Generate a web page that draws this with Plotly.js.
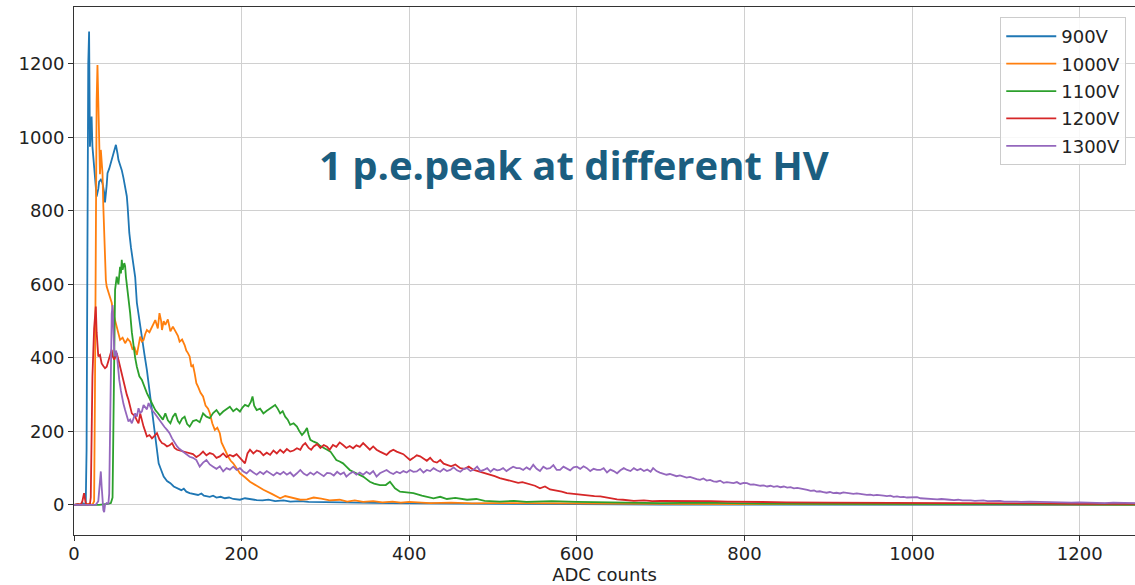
<!DOCTYPE html>
<html>
<head>
<meta charset="utf-8">
<script src="https://cdn.plot.ly/plotly-3.0.1.min.js"></script>
<style>
  html, body { margin: 0; padding: 0; background: #ffffff; }
  #chart { width: 1135px; height: 585px; }
</style>
</head>
<body>
<div id="chart"></div>
<script>
// Single photo-electron spectra, one histogram per high-voltage setting.
// Each list holds [ADC counts, entries] pairs.
const seriesNames = ["900V", "1000V", "1100V", "1200V", "1300V"];
const seriesColors = ["#1f77b4", "#ff7f0e", "#2ca02c", "#d62728", "#9467bd"];

const hv900 = [[0,0],[4,2],[8,0],[10,5],[12,3],[14,0],[15,150],[16,800],[17,1200],[18,1288],[19,975],[20,1010],[21,1057],[22,975],[24,911],[26,870],[27,839],[29,860],[30,880],[32,885],[34,876],[36,850],[37,823],[39,870],[40,903],[42,915],[45,939],[47,950],[50,980],[52,955],[53,939],[55,925],[57,911],[59,890],[61,866],[63,840],[64,812],[66,740],[68,700],[71,658],[73,620],[75,550],[78,500],[81,458],[84,410],[87,367],[90,310],[93,258],[96,200],[98,168],[101,113],[104,95],[107,77],[111,65],[115,59],[119,50],[123,46],[128,40],[131,44],[134,36],[138,32],[143,30],[148,27],[152,31],[155,25],[162,22],[166,25],[170,20],[175,22],[180,18],[185,20],[190,16],[198,14],[204,18],[210,15],[218,13],[225,12],[232,14],[240,10],[250,12],[258,9],[270,10],[280,8],[300,7],[330,6],[377,5],[420,4],[470,3],[520,2],[600,2],[700,1],[800,1],[900,1],[1000,0],[1100,0],[1266,0]];

const hv1000 = [[0,0],[6,2],[12,0],[18,3],[22,0],[24,10],[25,300],[26,800],[27,1100],[28,1197],[29,1100],[30,985],[31,900],[32,966],[33,930],[34,903],[35,812],[36,720],[38,612],[39,594],[42,570],[45,550],[47,520],[49,503],[52,470],[55,449],[58,455],[61,440],[64,452],[67,444],[70,422],[72,430],[75,408],[77,430],[79,458],[81,445],[83,449],[85,465],[87,476],[90,470],[93,485],[95,495],[97,503],[100,480],[102,522],[104,500],[105,476],[107,500],[109,490],[112,505],[115,472],[118,485],[121,472],[124,460],[126,444],[129,450],[132,435],[134,420],[136,413],[138,404],[140,376],[142,380],[144,358],[146,331],[148,322],[151,305],[154,295],[157,270],[160,262],[162,250],[165,222],[168,204],[171,210],[174,195],[176,170],[178,159],[181,145],[184,131],[187,120],[190,113],[194,100],[198,86],[204,75],[210,63],[218,52],[226,41],[236,30],[246,18],[252,24],[260,20],[270,14],[278,15],[286,20],[295,17],[305,12],[317,14],[326,9],[335,12],[345,8],[357,10],[368,7],[380,9],[390,6],[400,8],[425,5],[450,6],[475,4],[500,5],[550,4],[600,3],[650,4],[700,3],[800,2],[900,2],[1000,1],[1100,1],[1266,1]];

const hv1100 = [[0,0],[10,0],[20,2],[30,0],[40,3],[44,5],[46,20],[47,200],[48,450],[49,585],[51,621],[53,600],[55,648],[56,630],[57,667],[58,640],[60,658],[61,650],[62,620],[63,603],[65,560],[67,522],[69,470],[71,431],[73,400],[75,376],[78,350],[81,340],[84,320],[87,304],[89,295],[91,286],[94,270],[97,258],[100,250],[103,240],[106,232],[109,249],[112,230],[115,222],[118,240],[121,249],[124,228],[126,222],[129,235],[132,240],[135,220],[138,213],[142,228],[146,231],[150,225],[154,249],[158,240],[162,236],[166,250],[170,258],[174,245],[178,254],[182,260],[186,267],[190,255],[194,262],[198,254],[201,265],[204,272],[208,268],[211,280],[213,295],[215,270],[218,258],[222,262],[226,249],[230,256],[234,263],[237,268],[240,272],[243,262],[246,249],[249,255],[252,240],[255,232],[258,218],[262,222],[266,213],[269,200],[272,190],[275,198],[278,209],[280,190],[282,177],[286,172],[290,168],[294,160],[298,154],[302,150],[306,145],[310,132],[313,122],[317,118],[321,113],[325,104],[329,95],[333,90],[337,86],[341,80],[345,77],[349,70],[353,63],[358,58],[365,54],[372,54],[377,63],[383,45],[389,36],[397,34],[405,32],[415,25],[429,18],[437,22],[445,16],[455,19],[469,14],[480,16],[490,11],[508,9],[525,11],[540,8],[570,10],[600,8],[650,6],[700,5],[750,6],[800,4],[900,3],[1000,2],[1100,2],[1266,1]];

const hv1200 = [[0,0],[5,2],[8,0],[10,10],[12,32],[14,5],[16,0],[19,2],[20,20],[21,150],[22,350],[24,480],[26,540],[27,470],[29,404],[31,408],[33,385],[35,378],[37,372],[39,376],[41,390],[42,399],[44,410],[45,422],[46,405],[48,395],[50,405],[51,413],[53,395],[55,376],[57,349],[59,330],[61,313],[63,300],[65,286],[67,265],[69,249],[71,245],[73,240],[75,230],[77,222],[79,249],[81,228],[83,213],[85,200],[87,186],[90,190],[93,181],[96,188],[99,195],[102,178],[105,168],[108,165],[111,159],[114,162],[117,168],[120,155],[123,150],[126,148],[130,145],[134,142],[138,141],[142,138],[146,130],[150,136],[154,145],[158,135],[162,141],[166,138],[170,128],[174,132],[178,140],[182,130],[186,136],[190,132],[194,138],[198,127],[201,120],[204,113],[207,140],[210,150],[214,140],[218,148],[222,145],[226,135],[230,142],[234,136],[238,148],[242,140],[246,150],[250,142],[254,152],[258,145],[262,148],[266,154],[270,150],[273,162],[276,168],[280,155],[283,150],[286,159],[290,165],[294,155],[298,163],[302,158],[305,150],[309,163],[313,158],[317,170],[321,163],[325,155],[329,160],[333,154],[337,162],[341,158],[345,168],[349,160],[353,150],[357,159],[361,150],[365,145],[369,140],[373,136],[377,145],[381,150],[385,145],[389,141],[393,138],[397,130],[401,122],[405,128],[409,135],[413,132],[417,125],[421,120],[425,128],[429,118],[433,115],[437,122],[441,112],[445,109],[450,105],[455,110],[461,100],[466,98],[471,104],[477,95],[482,92],[487,88],[492,86],[497,82],[502,78],[508,73],[513,70],[518,68],[524,63],[530,60],[535,62],[540,59],[545,55],[550,52],[556,45],[562,50],[568,42],[575,40],[582,36],[588,32],[595,30],[601,28],[608,27],[615,25],[621,24],[628,23],[635,20],[641,18],[648,15],[655,14],[661,13],[668,11],[680,12],[690,10],[700,11],[720,10],[740,9],[760,10],[780,9],[800,8],[850,7],[900,6],[950,6],[1000,5],[1050,5],[1100,4],[1150,4],[1200,3],[1266,3]];

const hv1300 = [[0,0],[10,0],[20,2],[26,0],[29,10],[31,60],[32,91],[33,50],[34,10],[35,-14],[36,-20],[37,0],[39,5],[41,3],[42,30],[43,200],[44,420],[45,520],[46,544],[47,470],[48,420],[49,404],[50,420],[51,413],[52,380],[54,340],[56,310],[57,295],[59,275],[61,258],[63,240],[65,227],[67,232],[69,222],[71,235],[73,249],[75,240],[77,263],[79,250],[81,254],[83,272],[85,267],[87,260],[89,277],[91,265],[93,258],[96,250],[99,240],[102,230],[105,222],[108,212],[111,204],[114,195],[117,181],[120,170],[123,159],[126,152],[130,145],[134,140],[138,131],[142,128],[146,122],[150,104],[154,115],[158,122],[162,110],[166,104],[170,98],[174,105],[178,91],[182,100],[186,96],[190,104],[194,95],[198,100],[202,91],[206,86],[210,95],[214,88],[218,82],[222,90],[226,84],[230,92],[234,86],[238,80],[242,88],[246,83],[250,90],[254,82],[258,88],[262,78],[266,86],[270,95],[274,85],[278,80],[282,88],[286,82],[290,90],[294,84],[298,78],[302,87],[306,86],[310,80],[314,90],[318,83],[322,88],[325,77],[329,85],[333,90],[337,82],[341,88],[345,82],[349,90],[353,84],[357,92],[361,77],[365,86],[369,90],[373,95],[377,88],[381,84],[385,90],[389,86],[393,92],[397,88],[401,95],[405,90],[409,91],[413,98],[417,88],[421,95],[425,92],[429,100],[433,94],[437,90],[441,98],[445,92],[449,95],[453,102],[457,94],[461,90],[465,98],[469,100],[473,92],[477,96],[481,104],[485,92],[489,95],[493,100],[497,90],[501,98],[505,94],[508,95],[512,100],[516,92],[520,98],[524,104],[528,100],[532,100],[536,95],[540,102],[544,96],[548,109],[552,98],[556,92],[560,104],[564,98],[568,100],[572,108],[576,95],[580,95],[584,104],[588,99],[592,94],[596,102],[600,104],[604,98],[608,105],[612,100],[616,92],[620,98],[624,95],[628,95],[632,100],[636,88],[640,96],[644,92],[648,86],[652,94],[656,100],[660,95],[664,92],[668,100],[672,94],[676,98],[680,92],[684,96],[688,90],[691,100],[695,92],[699,88],[703,85],[707,82],[711,84],[715,80],[719,78],[723,80],[727,77],[731,74],[735,76],[739,72],[743,70],[747,68],[751,72],[755,66],[759,68],[763,64],[767,63],[771,66],[775,60],[779,62],[783,60],[787,59],[791,62],[795,57],[799,60],[803,59],[807,55],[811,56],[815,54],[819,52],[823,53],[827,50],[831,52],[835,49],[839,51],[843,48],[847,50],[851,47],[855,48],[859,45],[863,46],[867,45],[871,43],[875,41],[879,38],[883,39],[886,36],[890,37],[894,35],[898,33],[902,35],[906,32],[910,33],[914,31],[918,34],[922,32],[926,32],[930,30],[934,31],[938,29],[942,28],[946,27],[950,28],[954,26],[958,27],[962,25],[966,25],[970,24],[974,25],[978,22],[982,23],[986,21],[990,22],[994,20],[998,21],[1002,20],[1006,21],[1010,18],[1015,17],[1020,16],[1025,17],[1030,15],[1035,16],[1040,14],[1045,14],[1050,13],[1055,14],[1060,12],[1065,13],[1070,12],[1075,11],[1080,12],[1085,12],[1090,10],[1095,11],[1100,10],[1105,11],[1110,9],[1115,10],[1120,9],[1125,9],[1130,8],[1140,9],[1150,8],[1160,7],[1170,8],[1180,7],[1190,6],[1200,7],[1210,6],[1220,6],[1230,5],[1240,6],[1250,5],[1266,5]];

const seriesData = [hv900, hv1000, hv1100, hv1200, hv1300];

const xTicks = [0, 200, 400, 600, 800, 1000, 1200];
const yTicks = [0, 200, 400, 600, 800, 1000, 1200];

const plotTitle = "1 p.e.peak at different HV";
const xLabel = "ADC counts";

const traces = seriesData.map((pts, i) => ({
  type: "scatter",
  mode: "lines",
  name: seriesNames[i],
  legendgroup: seriesNames[i],
  x: pts.map(p => p[0]),
  y: pts.map(p => p[1]),
  line: { color: seriesColors[i], width: 1.8 },
  hoverinfo: "x+y+name"
}));

const tickFont = { family: "DejaVu Sans, sans-serif", size: 18, color: "#222222" };

const layout = {
  width: 1135,
  height: 585,
  margin: { l: 74, r: 0, t: 7, b: 50, pad: 0 },
  paper_bgcolor: "#ffffff",
  plot_bgcolor: "#ffffff",
  showlegend: true,
  xaxis: {
    range: [0, 1266],
    tickvals: xTicks,
    ticktext: xTicks.map(String),
    ticks: "outside",
    ticklen: 5,
    tickcolor: "#333333",
    tickfont: tickFont,
    ticklabelstandoff: -3,
    showgrid: true,
    gridcolor: "#d0d0d0",
    gridwidth: 1,
    zeroline: false,
    showline: true,
    linecolor: "#333333",
    linewidth: 1,
    mirror: true,
    title: { text: xLabel, font: { family: "DejaVu Sans, sans-serif", size: 18, color: "#222222" }, standoff: 4 }
  },
  yaxis: {
    range: [-82, 1355],
    tickvals: yTicks,
    ticktext: yTicks.map(String),
    ticks: "outside",
    ticklen: 5,
    tickcolor: "#333333",
    tickfont: tickFont,
    showgrid: true,
    gridcolor: "#d0d0d0",
    gridwidth: 1,
    zeroline: false,
    showline: true,
    linecolor: "#333333",
    linewidth: 1,
    mirror: false
  },
  legend: {
    x: 0.873,
    y: 0.981,
    xanchor: "left",
    yanchor: "top",
    bgcolor: "rgba(255,255,255,0.85)",
    bordercolor: "#cccccc",
    borderwidth: 1,
    itemwidth: 50,
    tracegroupgap: 1,
    font: { family: "DejaVu Sans, sans-serif", size: 18, color: "#222222" }
  },
  annotations: [{
    text: "<b>" + plotTitle + "</b>",
    xref: "paper",
    yref: "paper",
    x: 0.4708,
    y: 0.7008,
    xanchor: "center",
    yanchor: "middle",
    showarrow: false,
    font: { family: "'Open Sans', Lato, sans-serif", size: 40, color: "#1b5e80" }
  }]
};

Plotly.newPlot("chart", traces, layout, { displayModeBar: false, staticPlot: true });
</script>
</body>
</html>
